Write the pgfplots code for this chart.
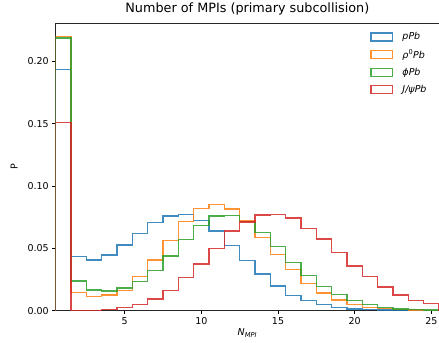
\documentclass[border=0pt]{standalone}
\usepackage{pgfplots}
\pgfplotsset{compat=1.18}
\usepackage{fontspec}
\setmainfont{DejaVu Sans}
\definecolor{c0}{HTML}{1F77B4}
\definecolor{c1}{HTML}{FF7F0E}
\definecolor{c2}{HTML}{2CA02C}
\definecolor{c3}{HTML}{D62728}
\begin{document}
\begin{tikzpicture}
\begin{axis}[
  at={(0pt,0pt)}, anchor=south west,
  scale only axis, width=383.5pt, height=287.4pt,
  xmin=0.5, xmax=25.5, ymin=0, ymax=0.2307,
  xtick={5,10,15,20,25}, ytick={0,0.05,0.10,0.15,0.20},
  yticklabel style={/pgf/number format/.cd, fixed, fixed zerofill, precision=2},
  /pgf/number format/assume math mode=true,
  tick align=outside, xtick pos=bottom, ytick pos=left,
  major tick length=3.5pt,
  tick style={black, line width=0.8pt},
  axis line style={line width=0.8pt, black!85},
  ticklabel style={font=\fontsize{9.5}{11}\selectfont},
  title={Number of MPIs (primary subcollision)},
  title style={font=\fontsize{12.8}{15}\selectfont, yshift=-1pt},
  xlabel={\textit{N}\textsubscript{\textit{MPI}}},
  ylabel={P},
  label style={font=\fontsize{9.5}{11}\selectfont},
  xlabel style={yshift=3pt},
  ylabel style={yshift=3pt},
  legend style={draw=none, fill=none, at={(rel axis cs:0.82,0.975)}, anchor=north west,
    font=\fontsize{9.5}{11}\selectfont, row sep=4.2pt, inner sep=0pt,
    /tikz/every odd column/.append style={column sep=7pt}},
  legend cell align=left,
  legend image code/.code={\draw[#1] (0pt,-4pt) rectangle (22pt,4pt);},
  every axis plot/.append style={const plot mark left, line width=1.3pt, opacity=0.85, mark=none},
]
\addplot[c0] coordinates {(0.5,0) (0.5,0.1934) (1.5,0.0433) (2.5,0.0407) (3.5,0.0447) (4.5,0.0527) (5.5,0.0621) (6.5,0.0706) (7.5,0.0760) (8.5,0.0771) (9.5,0.0722) (10.5,0.0640) (11.5,0.0525) (12.5,0.0401) (13.5,0.0294) (14.5,0.0198) (15.5,0.0120) (16.5,0.0080) (17.5,0.0046) (18.5,0.0024) (19.5,0.0013) (20.5,0.0007) (21.5,0.0004) (22.5,0.0002) (23.5,0.0001) (24.5,0.0001) (25.5,0.0001) (25.5,0)};
\addlegendentry{\textit{pPb}}
\addplot[c1] coordinates {(0.5,0) (0.5,0.2202) (1.5,0.0144) (2.5,0.0112) (3.5,0.0126) (4.5,0.0160) (5.5,0.0273) (6.5,0.0407) (7.5,0.0562) (8.5,0.0714) (9.5,0.0819) (10.5,0.0851) (11.5,0.0815) (12.5,0.0720) (13.5,0.0586) (14.5,0.0453) (15.5,0.0327) (16.5,0.0220) (17.5,0.0140) (18.5,0.0086) (19.5,0.0046) (20.5,0.0027) (21.5,0.0015) (22.5,0.0008) (23.5,0.0004) (24.5,0.0002) (25.5,0.0002) (25.5,0)};
\addlegendentry{\textit{ρ}\textsuperscript{0}\textit{Pb}}
\addplot[c2] coordinates {(0.5,0) (0.5,0.2190) (1.5,0.0238) (2.5,0.0166) (3.5,0.0156) (4.5,0.0180) (5.5,0.0233) (6.5,0.0321) (7.5,0.0439) (8.5,0.0573) (9.5,0.0685) (10.5,0.0760) (11.5,0.0766) (12.5,0.0716) (13.5,0.0626) (14.5,0.0514) (15.5,0.0388) (16.5,0.0284) (17.5,0.0193) (18.5,0.0128) (19.5,0.0080) (20.5,0.0046) (21.5,0.0024) (22.5,0.0013) (23.5,0.0007) (24.5,0.0004) (25.5,0.0004) (25.5,0)};
\addlegendentry{\textit{ϕPb}}
\addplot[c3] coordinates {(0.5,0) (0.5,0.1512) (1.5,0.0003) (2.5,0.0003) (3.5,0.0007) (4.5,0.0024) (5.5,0.0050) (6.5,0.0094) (7.5,0.0160) (8.5,0.0265) (9.5,0.0375) (10.5,0.0498) (11.5,0.0640) (12.5,0.0710) (13.5,0.0768) (14.5,0.0771) (15.5,0.0744) (16.5,0.0658) (17.5,0.0575) (18.5,0.0465) (19.5,0.0359) (20.5,0.0273) (21.5,0.0188) (22.5,0.0126) (23.5,0.0078) (24.5,0.0054) (25.5,0.0054) (25.5,0)};
\addlegendentry{\textit{J/ψPb}}
\end{axis}
\pgfresetboundingbox
\path[use as bounding box] (-55.7pt,-32.3pt) rectangle (383.5pt,310.7pt);
\end{tikzpicture}
\end{document}
